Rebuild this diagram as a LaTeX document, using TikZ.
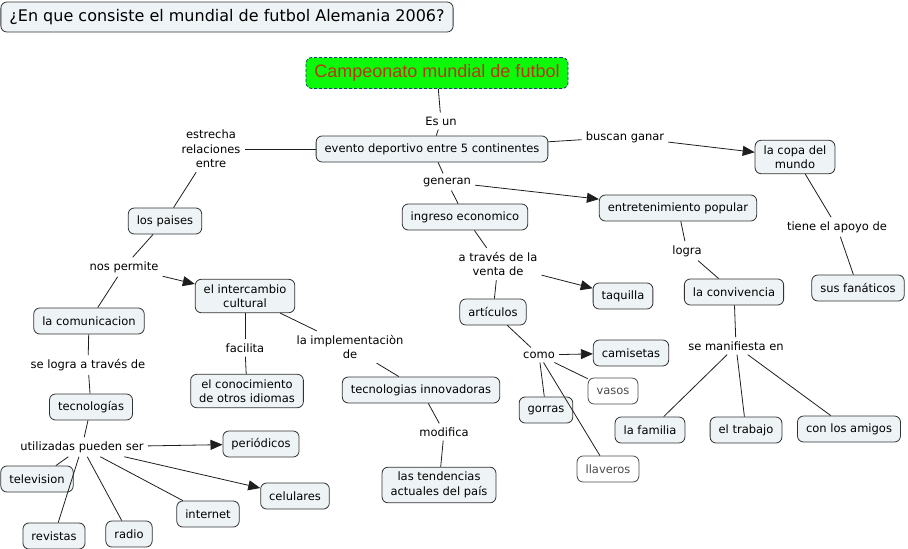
\documentclass[tikz,border=0pt]{standalone}
\usepackage{fontspec}
\setmainfont{DejaVu Sans}
\newfontfamily\arialfont{Liberation Sans}
\usepackage{xcolor}
\usepackage{tikz}
\usetikzlibrary{arrows.meta, positioning}
\definecolor{conceptfill}{RGB}{238, 243, 246}
\definecolor{rootgreen}{RGB}{10, 250, 10}
\definecolor{roottext}{RGB}{190, 50, 20}
\definecolor{rootborder}{RGB}{30, 60, 110}
\definecolor{linegray}{RGB}{30, 30, 30}

\begin{document}
\begin{tikzpicture}[
    x=1pt, y=-1pt,
    concept/.style={draw=black!80, line width=0.8pt, rounded corners=6pt, fill=conceptfill,
                    font=\fontsize{11.5}{14.5}\selectfont, align=center,
                    inner xsep=8.5pt, inner ysep=5pt, minimum height=26pt},
    plainconcept/.style={concept, fill=white, draw=black!70, text=black!70},
    linkword/.style={font=\fontsize{11.5}{14.5}\selectfont, align=center, inner sep=4pt},
    relation/.style={draw=linegray, line width=0.8pt},
    leadsto/.style={relation, -{Triangle[length=12pt, width=10pt]}}
]
    \useasboundingbox (0,0) rectangle (908,549);

    % ==================== QUESTION ====================
    \node[concept, font=\fontsize{16}{19}\selectfont, minimum width=452pt,
          minimum height=30pt] (question) at (227,17)
          {¿En que consiste el mundial de futbol Alemania 2006?};

    % ==================== ROOT ====================
    \node[concept, fill=rootgreen, draw=rootborder, dash pattern=on 3pt off 2pt,
          text=roottext, font=\arialfont\fontsize{18}{21}\selectfont,
          minimum width=261pt, minimum height=31pt] (root) at (437,73)
          {Campeonato mundial de futbol};
    \node[linkword] (esun) at (441,121) {Es un};
    \node[concept] (evento) at (432,149) {evento deportivo entre 5 continentes};

    % ==================== FIRST LEVEL ====================
    \node[linkword] (estrecha) at (211,149) {estrecha\\relaciones\\entre};
    \node[linkword] (buscan) at (625,137) {buscan ganar};
    \node[linkword] (generan) at (447,182) {generan};
    \node[concept] (copa) at (795,157) {la copa del\\mundo};
    \node[concept] (entret) at (678,208) {entretenimiento popular};
    \node[concept] (ingreso) at (465,217) {ingreso economico};
    \node[concept] (paises) at (165,221) {los paises};

    % ==================== RIGHT BRANCH ====================
    \node[linkword] (apoyo) at (837,227) {tiene el apoyo de};
    \node[concept] (fanaticos) at (858,288) {sus fanáticos};
    \node[linkword] (logra) at (687,251) {logra};
    \node[concept] (conviv) at (734,292) {la convivencia};
    \node[linkword] (manifiesta) at (736,346) {se manifiesta en};
    \node[concept] (familia) at (650,430) {la familia};
    \node[concept] (trabajo) at (746,430) {el trabajo};
    \node[concept] (amigos) at (849,429) {con los amigos};

    % ==================== MIDDLE BRANCH ====================
    \node[linkword] (venta) at (498,264) {a través de la\\venta de};
    \node[concept] (taquilla) at (623,296) {taquilla};
    \node[concept] (articulos) at (493,312) {artículos};
    \node[linkword] (como) at (539,355) {como};
    \node[concept] (camisetas) at (631,353) {camisetas};
    \node[plainconcept] (vasos) at (613,391) {vasos};
    \node[concept] (gorras) at (546,410) {gorras};
    \node[plainconcept] (llaveros) at (608,469) {llaveros};

    % ==================== LEFT BRANCH ====================
    \node[linkword] (permite) at (124,267) {nos permite};
    \node[concept] (intercambio) at (245,296) {el intercambio\\cultural};
    \node[concept] (comunic) at (89,321) {la comunicacion};
    \node[linkword] (facilita) at (245,348) {facilita};
    \node[linkword] (implement) at (350,347) {la implementaciòn\\de};
    \node[concept] (conocim) at (247,391) {el conocimiento\\de otros idiomas};
    \node[concept] (innov) at (421,390) {tecnologias innovadoras};
    \node[linkword] (modifica) at (444,432) {modifica};
    \node[concept] (tendencias) at (439,485) {las tendencias\\actuales del país};
    \node[linkword] (selogra) at (88,365) {se logra a través de};
    \node[concept] (tecnologias) at (91,407) {tecnologías};
    \node[linkword] (utilizadas) at (82,447) {utilizadas pueden ser};
    \node[concept] (periodicos) at (261,444) {periódicos};
    \node[concept] (television) at (37,479) {television};
    \node[concept] (celulares) at (295,496) {celulares};
    \node[concept] (internet) at (208,514) {internet};
    \node[concept] (revistas) at (54,536) {revistas};
    \node[concept] (radio) at (129,534) {radio};

    % ==================== RELATIONSHIPS ====================
    % Root
    \draw[relation] (root) -- (esun);
    \draw[relation] (esun) -- (evento);

    % Evento
    \draw[relation] (evento) -- (estrecha);
    \draw[relation] (estrecha) -- (paises);
    \draw[relation] (evento) -- (buscan);
    \draw[leadsto] (buscan) -- (copa);
    \draw[relation] (evento) -- (generan);
    \draw[relation] (generan) -- (ingreso);
    \draw[leadsto] (generan) -- (entret);

    % Right branch
    \draw[relation] (copa) -- (apoyo);
    \draw[relation] (apoyo) -- (fanaticos);
    \draw[relation] (entret) -- (logra);
    \draw[relation] (logra) -- (conviv);
    \draw[relation] (conviv) -- (manifiesta);
    \draw[relation] (manifiesta) -- (familia);
    \draw[relation] (manifiesta) -- (trabajo);
    \draw[relation] (manifiesta) -- (amigos);

    % Middle branch
    \draw[relation] (ingreso) -- (venta);
    \draw[relation] (venta) -- (articulos);
    \draw[leadsto] (venta) -- (taquilla);
    \draw[relation] (articulos) -- (como);
    \draw[leadsto] (como) -- (camisetas);
    \draw[relation] (como) -- (vasos);
    \draw[relation] (como) -- (gorras);
    \draw[relation] (como) -- (llaveros);

    % Left branch
    \draw[relation] (paises) -- (permite);
    \draw[relation] (permite) -- (comunic);
    \draw[leadsto] (permite) -- (intercambio);
    \draw[relation] (intercambio) -- (facilita);
    \draw[relation] (facilita) -- (conocim);
    \draw[relation] (intercambio) -- (implement);
    \draw[relation] (implement) -- (innov);
    \draw[relation] (innov) -- (modifica);
    \draw[relation] (modifica) -- (tendencias);
    \draw[relation] (comunic) -- (selogra);
    \draw[relation] (selogra) -- (tecnologias);
    \draw[relation] (tecnologias) -- (utilizadas);
    \draw[leadsto] (utilizadas) -- (periodicos);
    \draw[leadsto] (utilizadas) -- (celulares);
    \draw[relation] (utilizadas) -- (television);
    \draw[relation] (utilizadas) -- (revistas);
    \draw[relation] (utilizadas) -- (radio);
    \draw[relation] (utilizadas) -- (internet);
\end{tikzpicture}
\end{document}
